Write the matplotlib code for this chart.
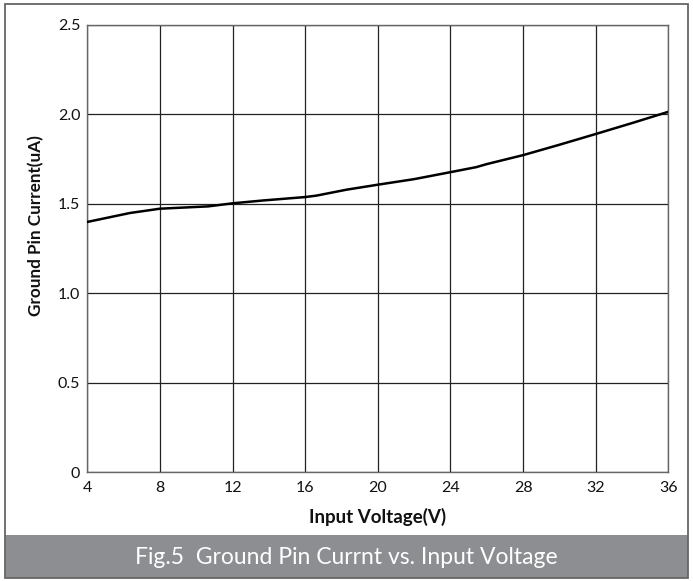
from matplotlib import pyplot as plt
from matplotlib.patches import Rectangle

# data
voltage = [4, 6.35, 8, 10.66, 12, 13.69, 16, 16.62, 18.27, 20, 22, 24, 25.42, 26, 28, 30, 32, 34, 36]
current = [1.398, 1.448, 1.472, 1.485, 1.502, 1.518, 1.537, 1.545, 1.578, 1.606, 1.637, 1.676, 1.704, 1.721, 1.771, 1.829, 1.889, 1.95, 2.013]

x_ticks = [4, 8, 12, 16, 20, 24, 28, 32, 36]
y_ticks = [0, 0.5, 1.0, 1.5, 2.0, 2.5]
y_tick_labels = ['0', '0.5', '1.0', '1.5', '2.0', '2.5']

W, H = 693, 581
plt.rcParams['font.family'] = ['Lato', 'DejaVu Sans']

fig = plt.figure(figsize=(W / 100, H / 100), dpi=100)
ax = fig.add_axes([87.3 / W, 1 - 472.3 / H, (668.3 - 87.3) / W, (472.3 - 24.6) / H])

ax.plot(voltage, current, color='black', linewidth=1.8, zorder=3)
ax.set_xlim(4, 36)
ax.set_ylim(0, 2.5)
ax.set_xticks(x_ticks)
ax.set_yticks(y_ticks)
ax.set_yticklabels(y_tick_labels)
ax.tick_params(length=0, labelsize=11.5, colors='#111111', pad=5)
ax.tick_params(axis='x', pad=6)
ax.grid(color='#222222', linewidth=0.9)
for s in ax.spines.values():
    s.set_color('#666666')
    s.set_linewidth(1.0)

fig.text(36.5 / W, 1 - 226 / H, 'Ground Pin Current(uA)', rotation=90, fontsize=12.3,
         fontweight='bold', ha='center', va='center', color='#111111')
fig.text(378 / W, 1 - 516.7 / H, 'Input Voltage(V)', fontsize=13.5,
         fontweight='bold', ha='center', va='center', color='#111111')

# caption bar and outer frame
fig.patches.append(Rectangle((5 / W, 1 - 578 / H), 683 / W, 43 / H, transform=fig.transFigure,
                             facecolor='#8c8e92', edgecolor='none', zorder=0))
fig.patches.append(Rectangle((5 / W, 1 - 578 / H), 683 / W, 574 / H, transform=fig.transFigure,
                             facecolor='none', edgecolor='#666666', linewidth=1.3, zorder=1))
fig.text(346.5 / W, 1 - 557 / H, 'Fig.5  Ground Pin Currnt vs. Input Voltage', fontsize=16.5,
         ha='center', va='center', color='#ffffff')

fig.savefig('out.png', dpi=100)
plt.close()
